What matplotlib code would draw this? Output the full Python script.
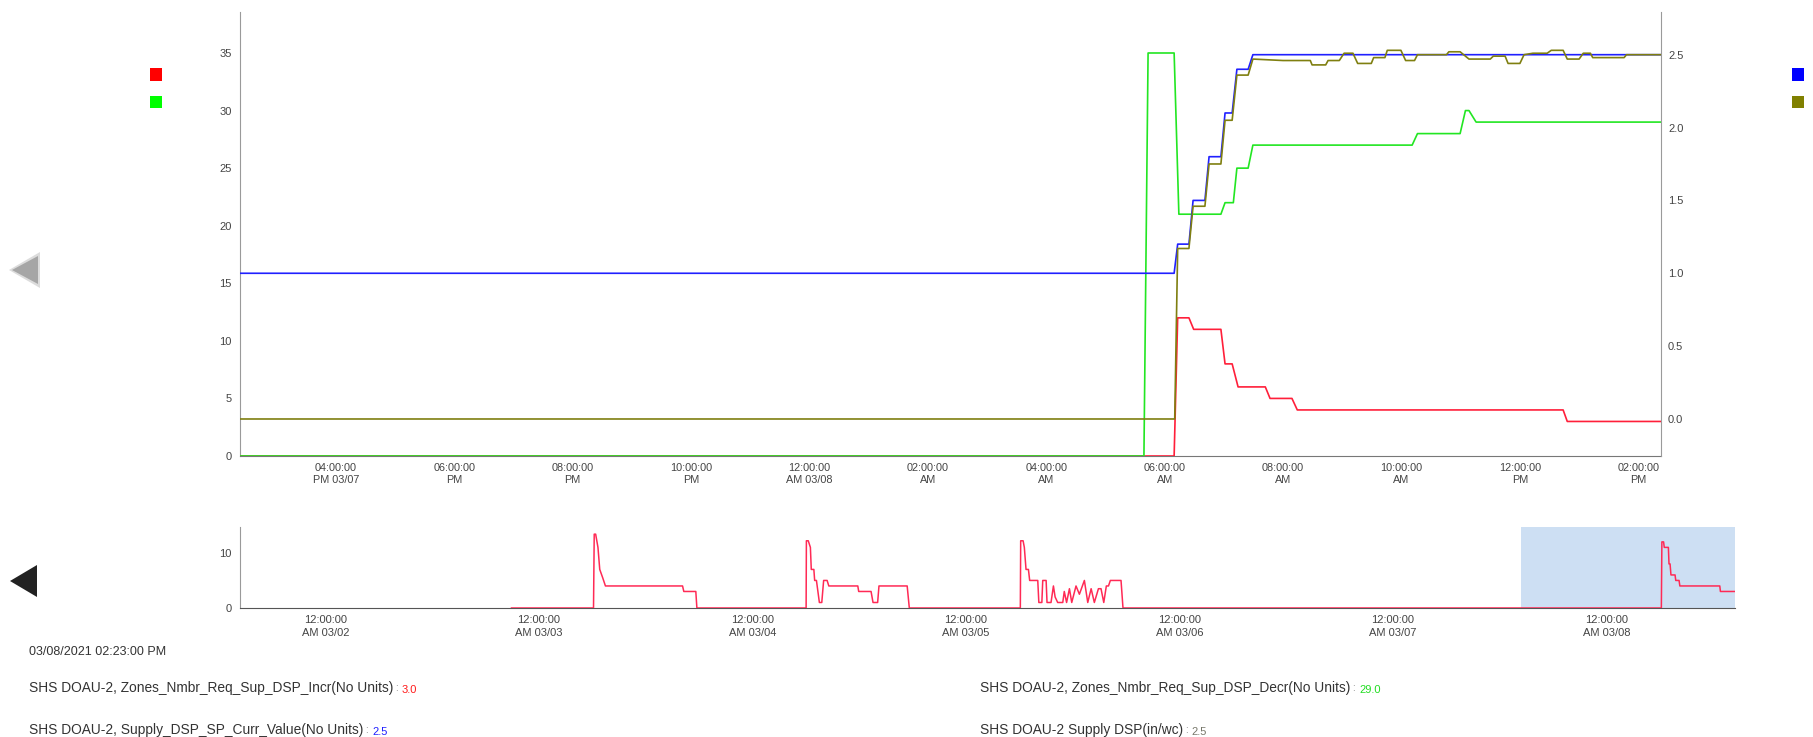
import matplotlib
matplotlib.use("Agg")
import matplotlib.pyplot as plt
from matplotlib.patches import Rectangle, Polygon
from matplotlib.ticker import FixedLocator, FixedFormatter

plt.rcParams['font.family'] = ['Liberation Sans', 'DejaVu Sans']

W, H = 1813, 737

# Time is in hours relative to 12:00 AM 03/08
VIEW_START, VIEW_END = -9.617, 14.383
NAV_START, NAV_END = -153.62, 14.383

# SHS DOAU-2, Zones_Nmbr_Req_Sup_DSP_Incr (left axis)
incr_hours = [-9.617, 6.16, 6.22, 6.41, 6.49, 6.95, 7.02, 7.14, 7.24, 7.70, 7.78,
              8.15, 8.24, 12.73, 12.80, 14.383]
incr_values = [0, 0, 12, 12, 11, 11, 8, 8, 6, 6, 5, 5, 4, 4, 3, 3]

# SHS DOAU-2, Zones_Nmbr_Req_Sup_DSP_Decr (left axis)
decr_hours = [-9.617, 5.65, 5.72, 6.16, 6.24, 6.95, 7.02, 7.16, 7.22, 7.41, 7.49,
              10.18, 10.27, 10.99, 11.08, 11.14, 11.26, 14.383]
decr_values = [0, 0, 35, 35, 21, 21, 22, 22, 25, 25, 27, 27, 28, 28, 30, 30, 29, 29]

# SHS DOAU-2, Supply_DSP_SP_Curr_Value (right axis)
sp_hours = [-9.617, 6.16, 6.22, 6.41, 6.48, 6.68, 6.75, 6.95, 7.02, 7.14, 7.22,
            7.41, 7.49, 14.383]
sp_values = [1.0, 1.0, 1.2, 1.2, 1.5, 1.5, 1.8, 1.8, 2.1, 2.1, 2.4, 2.4, 2.5, 2.5]

# SHS DOAU-2 Supply DSP (right axis)
dsp_hours = [-9.617, 6.17, 6.22, 6.41, 6.48, 6.68, 6.75, 6.95, 7.02, 7.14, 7.22,
             7.41, 7.49, 8.0, 8.46, 8.49, 8.72, 8.76, 8.95, 9.03, 9.18, 9.26,
             9.49, 9.53, 9.72, 9.76, 9.99, 10.07, 10.22, 10.27, 10.76, 10.80,
             10.99, 11.14, 11.50, 11.55, 11.75, 11.80, 12.00, 12.07, 12.22,
             12.46, 12.53, 12.73, 12.80, 13.00, 13.07, 13.19, 13.23, 13.76,
             13.80, 14.383]
dsp_values = [0.0, 0.0, 1.17, 1.17, 1.46, 1.46, 1.75, 1.75, 2.05, 2.05, 2.36,
              2.36, 2.47, 2.46, 2.46, 2.43, 2.43, 2.46, 2.46, 2.51, 2.51, 2.44,
              2.44, 2.48, 2.48, 2.53, 2.53, 2.46, 2.46, 2.50, 2.50, 2.52,
              2.52, 2.47, 2.47, 2.49, 2.49, 2.44, 2.44, 2.50, 2.51,
              2.51, 2.53, 2.53, 2.47, 2.47, 2.51, 2.51, 2.48, 2.48,
              2.50, 2.50]

# Earlier history of the Incr series shown in the navigator
nav_hist_hours = [-123.1, -113.88, -113.8, -113.64, -113.38, -113.18, -112.85,
                  -112.54, -103.87, -103.73, -102.38, -102.26,
                  -89.98, -89.95, -89.74, -89.5, -89.4, -89.11, -89.02, -88.82,
                  -88.49, -88.22, -88.01, -87.62, -87.43, -84.17, -84.07,
                  -82.68, -82.46, -81.94, -81.79, -78.62, -78.38,
                  -65.9, -65.86, -65.59, -65.45, -65.26, -64.99, -64.85,
                  -63.94, -63.82, -63.48, -63.38, -63.0, -62.9, -62.45, -62.18,
                  -61.99, -61.7, -61.13, -60.96, -60.7, -60.38, -60.12, -59.64,
                  -59.26, -58.7, -58.32, -57.94, -57.58, -57.12, -56.83, -56.52,
                  -56.23, -55.99, -55.78, -54.58, -54.36]
nav_hist_values = [0, 0, 13.4, 13.4, 11, 7, 5.5, 4, 4, 3, 3, 0,
                   0, 12.2, 12.2, 11, 7, 7, 5, 5, 1, 1, 5, 5, 4, 4, 3, 3, 1, 1,
                   4, 4, 0,
                   0, 12.2, 12.2, 11, 7, 7, 5, 5, 1, 1, 5, 5, 1, 1, 4, 2, 1, 1,
                   3, 1, 3.5, 1, 4, 2.5, 5, 1, 3.5, 1, 3.5, 3.5, 1, 4, 4, 5, 5, 0]

main_tick_hours = [-8, -6, -4, -2, 0, 2, 4, 6, 8, 10, 12, 14]
main_tick_labels = ["04:00:00\nPM 03/07", "06:00:00\nPM", "08:00:00\nPM",
                    "10:00:00\nPM", "12:00:00\nAM 03/08", "02:00:00\nAM",
                    "04:00:00\nAM", "06:00:00\nAM", "08:00:00\nAM",
                    "10:00:00\nAM", "12:00:00\nPM", "02:00:00\nPM"]

nav_tick_hours = [-144, -120, -96, -72, -48, -24, 0]
nav_tick_labels = ["12:00:00\nAM 03/02", "12:00:00\nAM 03/03",
                   "12:00:00\nAM 03/04", "12:00:00\nAM 03/05",
                   "12:00:00\nAM 03/06", "12:00:00\nAM 03/07",
                   "12:00:00\nAM 03/08"]

left_ticks = [0, 5, 10, 15, 20, 25, 30, 35]
right_ticks = [0.0, 0.5, 1.0, 1.5, 2.0, 2.5]
nav_ticks = [0, 10]

timestamp_text = "03/08/2021 02:23:00 PM"
series_names = ["SHS DOAU-2, Zones_Nmbr_Req_Sup_DSP_Incr(No Units)",
                "SHS DOAU-2, Zones_Nmbr_Req_Sup_DSP_Decr(No Units)",
                "SHS DOAU-2, Supply_DSP_SP_Curr_Value(No Units)",
                "SHS DOAU-2 Supply DSP(in/wc)"]
series_current = ["3.0", "29.0", "2.5", "2.5"]

C_INCR = '#ff1f3a'
C_DECR = '#22e622'
C_SP = '#2020ff'
C_DSP = '#7f7f10'
C_NAV = '#ff2a55'
AX_GRAY = '#9a9a9a'
TXT = '#444444'


def fx(px):
    return px / W


def fy(py):
    return 1 - py / H


fig = plt.figure(figsize=(W / 100, H / 100), dpi=100)
fig.patch.set_facecolor('white')

# ---- main chart ----
ax = fig.add_axes([fx(240), fy(456), fx(1661) - fx(240), fy(12) - fy(456)])
ax2 = ax.twinx()

ax.plot(incr_hours, incr_values, color=C_INCR, lw=1.2, zorder=3)
ax.plot(decr_hours, decr_values, color=C_DECR, lw=1.2, zorder=4)
ax2.plot(sp_hours, sp_values, color=C_SP, lw=1.2, zorder=3)
ax2.plot(dsp_hours, dsp_values, color=C_DSP, lw=1.2, zorder=4)

ax.set_xlim(VIEW_START, VIEW_END)
ax.set_ylim(0, 38.56)
ax2.set_ylim(-0.254, 2.793)

ax.yaxis.set_major_locator(FixedLocator(left_ticks))
ax.yaxis.set_major_formatter(FixedFormatter([str(v) for v in left_ticks]))
ax2.yaxis.set_major_locator(FixedLocator(right_ticks))
ax2.yaxis.set_major_formatter(FixedFormatter([f"{v:.1f}" for v in right_ticks]))
ax.xaxis.set_major_locator(FixedLocator(main_tick_hours))
ax.xaxis.set_major_formatter(FixedFormatter(main_tick_labels))

ax.tick_params(axis='y', length=0, pad=6, labelsize=8, labelcolor=TXT)
ax2.tick_params(axis='y', length=0, pad=5, labelsize=8, labelcolor=TXT)
ax.tick_params(axis='x', length=0, pad=5, labelsize=7.8, labelcolor=TXT)
for lab in ax.get_xticklabels():
    lab.set_linespacing(1.3)

for s in ('top', 'right'):
    ax.spines[s].set_visible(False)
for s in ('top', 'left', 'bottom'):
    ax2.spines[s].set_visible(False)
ax.spines['left'].set_color(AX_GRAY)
ax.spines['bottom'].set_color('#777777')
ax2.spines['right'].set_color(AX_GRAY)

# ---- navigator ----
nav = fig.add_axes([fx(240), fy(608), fx(1734.5) - fx(240), fy(527) - fy(608)])
nav.axvspan(VIEW_START, VIEW_END, color='#cddff3', zorder=0, lw=0)
nav.plot(nav_hist_hours + incr_hours, nav_hist_values + incr_values,
         color=C_NAV, lw=1.1, zorder=3)
nav.set_xlim(NAV_START, NAV_END)
nav.set_ylim(0, 14.7)
nav.yaxis.set_major_locator(FixedLocator(nav_ticks))
nav.yaxis.set_major_formatter(FixedFormatter([str(v) for v in nav_ticks]))
nav.xaxis.set_major_locator(FixedLocator(nav_tick_hours))
nav.xaxis.set_major_formatter(FixedFormatter(nav_tick_labels))
nav.tick_params(axis='y', length=0, pad=6, labelsize=8, labelcolor=TXT)
nav.tick_params(axis='x', length=0, pad=5, labelsize=8, labelcolor=TXT)
for lab in nav.get_xticklabels():
    lab.set_linespacing(1.35)
for s in ('top', 'right'):
    nav.spines[s].set_visible(False)
nav.spines['left'].set_color(AX_GRAY)
nav.spines['bottom'].set_color('#555555')

# ---- legend swatches ----
for (cx, cy, col) in [(156, 74.5, '#ff0000'), (156, 102, '#00ff00'),
                      (1798, 74.5, '#0000ff'), (1798, 102, '#808000')]:
    fig.add_artist(Rectangle((fx(cx - 6), fy(cy + 6)), 12 / W, 12 / H,
                             transform=fig.transFigure, color=col, lw=0))

# ---- scroll arrows ----
fig.add_artist(Polygon([(fx(40), fy(252)), (fx(40), fy(288)), (fx(9), fy(270))],
                       closed=True, transform=fig.transFigure,
                       color='#dcdcdc', lw=0))
fig.add_artist(Polygon([(fx(38), fy(256)), (fx(38), fy(284)), (fx(12), fy(270))],
                       closed=True, transform=fig.transFigure,
                       color='#a6a6a6', lw=0))
fig.add_artist(Polygon([(fx(37), fy(565)), (fx(37), fy(597)), (fx(10), fy(581))],
                       closed=True, transform=fig.transFigure,
                       color='#222222', lw=0))

# ---- current values ----
fig.text(fx(29), fy(652), timestamp_text, ha='left', va='center',
         fontsize=9, color='#333333')

renderer = fig.canvas.get_renderer()
value_colors = ['#ff1a1a', '#22dd22', '#2020ff', '#77776a']
positions = [(29, 688), (980, 688), (29, 730), (980, 730)]
for name, val, col, (px, py) in zip(series_names, series_current,
                                    value_colors, positions):
    t = fig.text(fx(px), fy(py), name, ha='left', va='center',
                 fontsize=9.9, color='#333333')
    bb = t.get_window_extent(renderer=renderer)
    sep = fig.text(bb.x1 / W, fy(py), " : ", ha='left', va='center',
                   fontsize=7.5, color='#888888')
    bb2 = sep.get_window_extent(renderer=renderer)
    fig.text(bb2.x1 / W, fy(py + 2), val, ha='left', va='center',
             fontsize=8, color=col)

fig.savefig("out.png", dpi=100, facecolor='white')
